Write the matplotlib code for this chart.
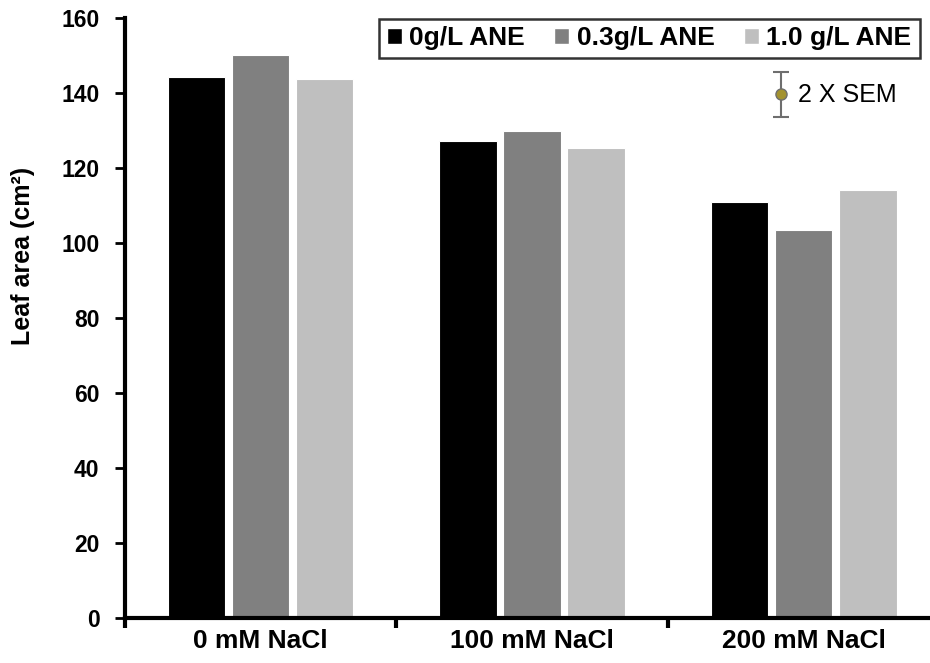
import numpy as np
import matplotlib.pyplot as plt
from matplotlib.patches import Patch

plt.rcParams['font.family'] = ['Liberation Sans', 'DejaVu Sans']

categories = ["0 mM NaCl", "100 mM NaCl", "200 mM NaCl"]
series_names = ["0g/L ANE", "0.3g/L ANE", "1.0 g/L ANE"]
ane_0 = [144.3, 127.2, 110.9]
ane_03 = [150.1, 129.9, 103.5]
ane_10 = [143.7, 125.3, 114.1]
colors = ["#000000", "#808080", "#bfbfbf"]

fig = plt.figure(figsize=(9.3, 6.63), dpi=100)
ax = fig.add_axes([0.134, 0.068, 0.866, 0.905])

centers = np.arange(len(categories)) + 0.5
width = 0.212
step = 0.236
for i, (vals, c) in enumerate(zip([ane_0, ane_03, ane_10], colors)):
    ax.bar(centers + (i - 1) * step, vals, width=width, color=c,
           edgecolor="white", linewidth=0.8, zorder=2)

ax.set_ylim(0, 160)
ax.set_xlim(0, 2.965)
ax.set_yticks(np.arange(0, 161, 20))
ax.set_xticks(centers)
ax.set_xticklabels(categories, fontsize=19, fontweight="bold")
ax.set_xticks([0, 1, 2], minor=True)
ax.tick_params(axis="x", which="major", length=0, pad=8)
ax.tick_params(axis="x", which="minor", length=7, width=3, direction="out")
ax.tick_params(axis="y", length=7, width=2, direction="out", labelsize=16.5, pad=11)
for lab in ax.get_yticklabels():
    lab.set_fontweight("bold")

for s in ["top", "right"]:
    ax.spines[s].set_visible(False)
for s in ["left", "bottom"]:
    ax.spines[s].set_linewidth(3)

fig.text(23 / 930, 1 - 256 / 663, "Leaf area (cm²)", rotation=90,
         fontsize=18, fontweight="bold", ha="center", va="center")

handles = [Patch(facecolor=c, edgecolor="white") for c in colors]
leg = ax.legend(handles, series_names, ncol=3, loc="upper right",
                bbox_to_anchor=(0.987, 0.999), frameon=True, fancybox=False,
                prop={"weight": "bold", "size": 19}, handlelength=0.56,
                handleheight=0.56, handletextpad=0.3, columnspacing=1.1,
                borderpad=0.3, borderaxespad=0)
leg.get_frame().set_edgecolor("black")
leg.get_frame().set_linewidth(1.8)

# 2 X SEM key
ax.errorbar([2.416], [139.7], yerr=[6.0], fmt="o", color="#6e6e6e",
            markerfacecolor="#a3922f", markeredgecolor="#6e6e6e",
            markersize=8, capsize=5.5, elinewidth=1.5, capthick=1.5, zorder=3)
ax.text(2.478, 139.5, "2 X SEM", fontsize=18, va="center", ha="left")

fig.savefig("out.png", dpi=100)
